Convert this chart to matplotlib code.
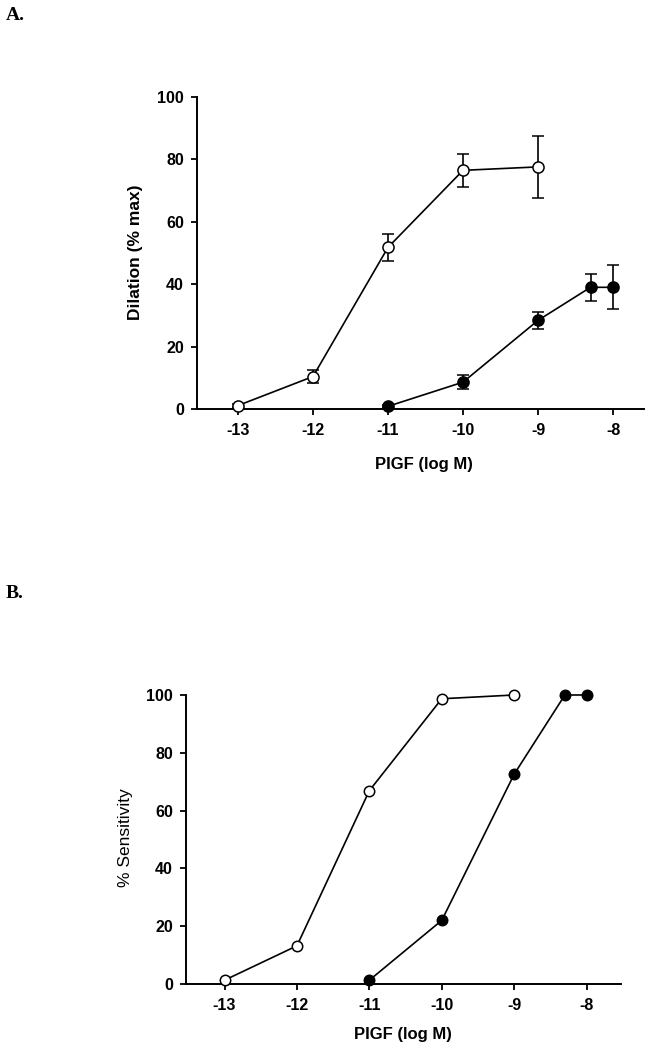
import matplotlib
matplotlib.use("Agg")
import matplotlib.pyplot as plt

# Panel A data (dilation, % max)
a_open_x = [-13, -12, -11, -10, -9]
a_open_y = [1.1, 10.4, 51.8, 76.5, 77.6]
a_open_err = [0.4, 2.1, 4.4, 5.2, 9.9]
a_fill_x = [-11, -10, -9, -8.3, -8]
a_fill_y = [0.85, 8.6, 28.4, 39, 39]
a_fill_err = [0.3, 2.3, 2.75, 4.4, 7.1]

# Panel B data (% sensitivity)
b_open_x = [-13, -12, -11, -10, -9]
b_open_y = [1.3, 13.2, 66.9, 98.7, 100]
b_fill_x = [-11, -10, -9, -8.3, -8]
b_fill_y = [1.3, 22, 72.6, 100, 100]

xticks = [-13, -12, -11, -10, -9, -8]
yticks = [0, 20, 40, 60, 80, 100]
xlabel_text = 'PIGF (log M)'

plt.rcParams['font.family'] = ['Liberation Sans', 'DejaVu Sans']

fig = plt.figure(figsize=(6.57, 10.5), dpi=100)


def style(ax, xlim, ylabel, ylabel_bold, xl_pos, yl_pos):
    for s in ['top', 'right']:
        ax.spines[s].set_visible(False)
    for s in ['left', 'bottom']:
        ax.spines[s].set_linewidth(1.4)
    ax.set_xlim(*xlim)
    ax.set_ylim(0, 100)
    ax.set_xticks(xticks)
    ax.set_yticks(yticks)
    ax.set_xticklabels([str(t) for t in xticks], fontweight='bold', fontsize=11.5)
    ax.set_yticklabels([str(t) for t in yticks], fontweight='bold', fontsize=11.5)
    ax.tick_params(direction='out', length=4, width=1.3)
    ax.tick_params(axis='x', pad=6)
    ax.tick_params(axis='y', pad=5.5)
    ax.set_xlabel(xlabel_text, fontweight='bold', fontsize=12, va='center', ha='center')
    ax.xaxis.set_label_coords(*xl_pos)
    ax.set_ylabel(ylabel, fontweight='bold' if ylabel_bold else 'normal', fontsize=12.5,
                  va='center', ha='center')
    ax.yaxis.set_label_coords(*yl_pos)


ekw = dict(fmt='-o', color='black', mec='black', ms=8, mew=1.1, lw=1.2,
           capsize=4, elinewidth=1.2, capthick=1.2, clip_on=False, zorder=3)

axA = fig.add_axes([0.2998, 0.6105, 0.6804, 0.2971])
axA.errorbar(a_open_x, a_open_y, yerr=a_open_err, mfc='white', **ekw)
axA.errorbar(a_fill_x, a_fill_y, yerr=a_fill_err, mfc='black', **ekw)
style(axA, (-13.547, -7.587), 'Dilation (% max)', True, (0.508, -0.1795), (-0.1365, 0.503))

axB = fig.add_axes([0.2831, 0.0629, 0.6621, 0.2752])
axB.plot(b_open_x, b_open_y, '-o', color='black', mfc='white', mec='black', ms=7.5, mew=1.1,
         lw=1.2, clip_on=False, zorder=3)
axB.plot(b_fill_x, b_fill_y, '-o', color='black', mfc='black', mec='black', ms=7.5, mew=1.1,
         lw=1.2, clip_on=False, zorder=3)
style(axB, (-13.532, -7.525), '% Sensitivity', False, (0.499, -0.1765), (-0.138, 0.505))

fig.text(6 / 657, 1 - 15 / 1050, 'A.', fontsize=14, fontweight='bold',
         family='Liberation Serif', va='center', ha='left')
fig.text(6 / 657, 1 - 593 / 1050, 'B.', fontsize=14, fontweight='bold',
         family='Liberation Serif', va='center', ha='left')

fig.savefig('out.png', dpi=100)
